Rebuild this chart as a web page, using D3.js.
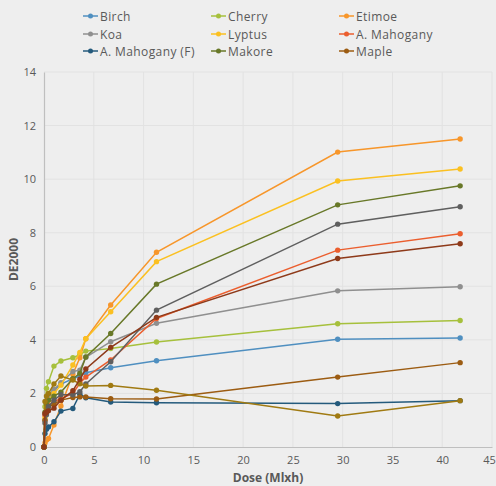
<!DOCTYPE html>
<html><head><meta charset="utf-8">
<script src="https://cdn.jsdelivr.net/npm/d3@7"></script>
<style>
html,body{margin:0;padding:0;background:#eeeeee;}
svg{display:block;font-family:"Open Sans","Liberation Sans",sans-serif;}
</style></head>
<body>
<svg id="c" width="496" height="486"></svg>
<script>
// Data
const dose = [0, 0.1, 0.25, 0.45, 1.0, 1.7, 2.9, 3.6, 4.2, 6.7, 11.3, 29.5, 41.8];
const seriesNames = ["Birch","Cherry","Etimoe","Koa","Lyptus","A. Mahogany","A. Mahogany (F)","Makore","Maple","Series10","Series11","Series12"];
const legendCount = 9;
const birch      = [0, 1.2, 1.6, 1.8, 2.1, 2.35, 2.55, 2.65, 2.77, 2.96, 3.22, 4.02, 4.07];
const cherry     = [0, 1.5, 2.19, 2.44, 3.02, 3.21, 3.33, 3.45, 3.58, 3.68, 3.92, 4.60, 4.72];
const etimoe     = [0, 0.15, 0.26, 0.32, 0.82, 1.53, 2.72, 3.33, 4.04, 5.30, 7.27, 11.01, 11.50];
const koa        = [0, 1.0, 1.5, 1.9, 2.15, 2.4, 2.82, 2.87, 3.35, 3.93, 4.62, 5.83, 5.98];
const lyptus     = [0, 1.1, 1.5, 1.75, 2.0, 2.31, 3.06, 3.53, 4.04, 5.05, 6.92, 9.93, 10.38];
const aMahogany  = [0, 1.2, 1.4, 1.55, 1.7, 1.8, 2.0, 2.38, 2.61, 3.25, 4.80, 7.35, 7.96];
const aMahoganyF = [0, 0.5, 0.66, 0.75, 0.94, 1.34, 1.44, 1.97, 1.84, 1.68, 1.65, 1.62, 1.73];
const makore     = [0, 1.3, 1.6, 1.75, 1.9, 2.05, 2.55, 2.75, 3.36, 4.24, 6.08, 9.04, 9.75];
const maple      = [0, 1.0, 1.3, 1.5, 1.6, 1.75, 1.85, 1.87, 1.87, 1.80, 1.79, 2.61, 3.15];
const series10   = [0, 0.9, 1.2, 1.5, 1.75, 1.95, 1.95, 2.06, 2.35, 3.18, 5.11, 8.32, 8.97];
const series11   = [0, 1.7, 1.9, 2.0, 2.35, 2.65, 2.5, 2.36, 2.28, 2.30, 2.12, 1.16, 1.73];
const series12   = [0, 1.25, 1.3, 1.35, 1.45, 1.75, 2.1, 2.53, 2.91, 3.72, 4.84, 7.04, 7.59];
const xTicks = [0,5,10,15,20,25,30,35,40,45];
const yTicks = [0,2,4,6,8,10,12,14];

const allValues = [birch,cherry,etimoe,koa,lyptus,aMahogany,aMahoganyF,makore,maple,series10,series11,series12];
const colors = ["#4f8fc0","#a6c03c","#f7962a","#8f8f8f","#fbc021","#eb5e2e","#245a7c","#687828","#9c5c12","#5f5f5f","#a07a12","#8e3a1a"];

const svg = d3.select("#c");
const m = {left:44, right:492, top:72, bottom:447};
const x = d3.scaleLinear().domain([0,45]).range([m.left,m.right]);
const y = d3.scaleLinear().domain([0,14]).range([m.bottom,m.top]);

// gridlines
const g = svg.append("g");
g.selectAll(".hg").data(yTicks.slice(1)).join("line")
  .attr("x1",m.left).attr("x2",m.right).attr("y1",d=>y(d)).attr("y2",d=>y(d))
  .attr("stroke","#e2e2e2").attr("stroke-width",1);
g.selectAll(".vg").data(xTicks.slice(1)).join("line")
  .attr("y1",m.top).attr("y2",m.bottom).attr("x1",d=>x(d)).attr("x2",d=>x(d))
  .attr("stroke","#e2e2e2").attr("stroke-width",1);

// axes
const xa = svg.append("g").attr("transform",`translate(0,${m.bottom})`)
  .call(d3.axisBottom(x).tickValues(xTicks).tickSize(0).tickPadding(9));
const ya = svg.append("g").attr("transform",`translate(${m.left},0)`)
  .call(d3.axisLeft(y).tickValues(yTicks).tickSize(0).tickPadding(8));
[xa,ya].forEach(a=>{
  a.select(".domain").attr("stroke","#bfbfbf").attr("stroke-width",1.2);
  a.selectAll("text").attr("fill","#595959").style("font-size","11px").style("font-family","'Open Sans',sans-serif");
});
xa.selectAll(".tick text").filter(d=>d===45).attr("dx",-3);

// axis titles
svg.append("text").attr("x",(m.left+m.right)/2).attr("y",482).attr("text-anchor","middle")
  .attr("fill","#595959").style("font-size","12px").style("font-weight","bold").text("Dose (Mlxh)");
svg.append("text").attr("transform",`translate(18,${(m.top+m.bottom)/2}) rotate(-90)`).attr("text-anchor","middle")
  .attr("fill","#595959").style("font-size","12px").style("font-weight","bold").text("DE2000");

// series
const line = d3.line().x((d,i)=>x(dose[i])).y(d=>y(d));
allValues.forEach((vals,k)=>{
  const sg = svg.append("g");
  sg.append("path").datum(vals).attr("d",line).attr("fill","none")
    .attr("stroke",colors[k]).attr("stroke-width",1.5);
  sg.selectAll("circle").data(vals).join("circle")
    .attr("cx",(d,i)=>x(dose[i])).attr("cy",d=>y(d)).attr("r",2.7).attr("fill",colors[k]);
});

// legend
const colX = [83,211,339], rowY = [16,34,51];
seriesNames.slice(0,legendCount).forEach((n,i)=>{
  const cx = colX[i%3], cy = rowY[Math.floor(i/3)];
  const lg = svg.append("g");
  lg.append("line").attr("x1",cx).attr("x2",cx+15).attr("y1",cy).attr("y2",cy)
    .attr("stroke",colors[i]).attr("stroke-width",1.5);
  lg.append("circle").attr("cx",cx+7.5).attr("cy",cy).attr("r",2.5).attr("fill",colors[i]);
  lg.append("text").attr("x",cx+17).attr("y",cy+4.5).attr("fill","#595959")
    .style("font-size","12px").style("letter-spacing","0.4px").text(n);
});
</script>
</body></html>
